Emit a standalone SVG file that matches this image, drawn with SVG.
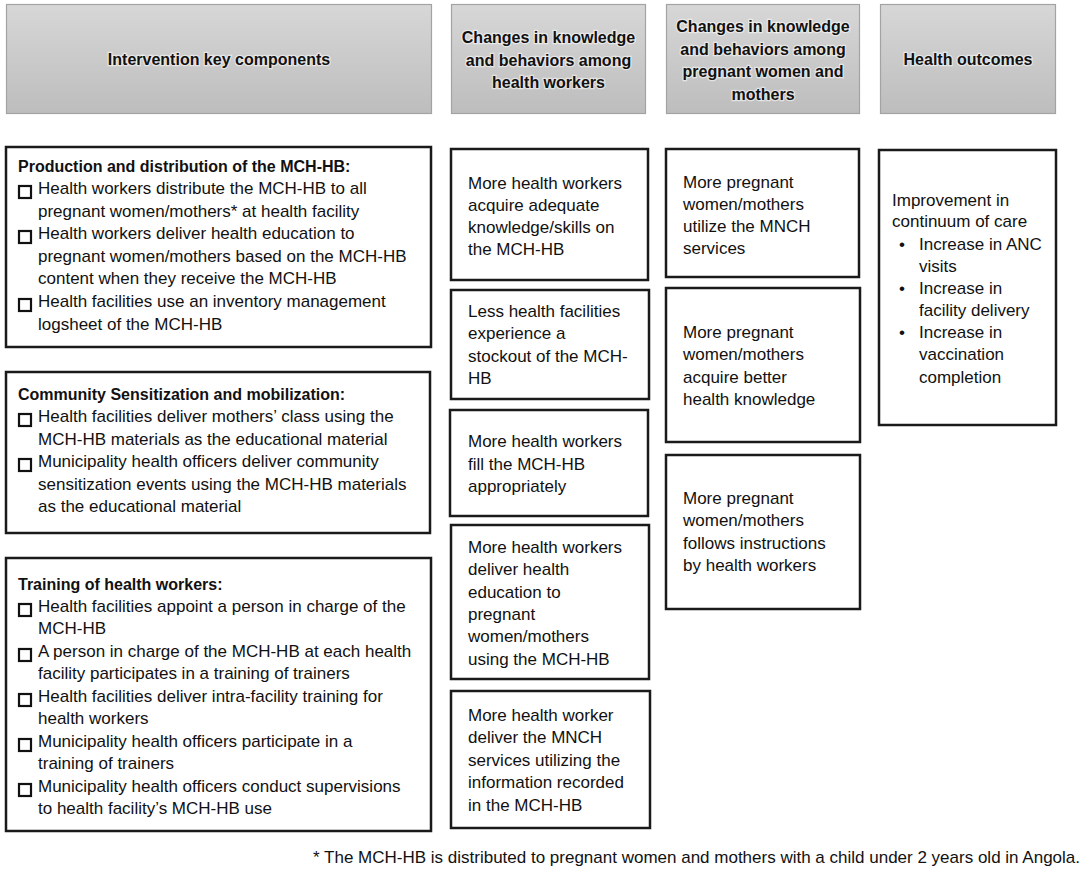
<svg xmlns="http://www.w3.org/2000/svg" width="1084" height="871" viewBox="0 0 1084 871">
<defs>
<linearGradient id="hg" x1="0" y1="0" x2="0" y2="1">
<stop offset="0" stop-color="#d7d7d7"/>
<stop offset="1" stop-color="#bdbdbd"/>
</linearGradient>
</defs>
<style>
.hdr{fill:url(#hg);stroke:#a3a3a3;stroke-width:1.2}
.ht{font-family:"Liberation Sans",Arial,sans-serif;font-weight:bold;font-size:16px;fill:#111;text-anchor:middle;stroke:#ffffff;stroke-width:2.5px;stroke-opacity:0.55;paint-order:stroke}
.box{fill:#fff;stroke:#1a1a1a;stroke-width:2.5}
.t{font-family:"Liberation Sans",Arial,sans-serif;font-size:17px;fill:#111}
.tb{font-family:"Liberation Sans",Arial,sans-serif;font-size:16px;font-weight:bold;fill:#111}
.cb{fill:none;stroke:#111;stroke-width:2.2}
</style>
<rect width="1084" height="871" fill="#fff"/>

<g id="header-intervention">
<rect class="hdr" x="6.5" y="4.5" width="425" height="109"/>
<text class="ht" x="219" y="65">Intervention key components</text>
</g>
<g id="header-health-workers">
<rect class="hdr" x="451.5" y="4.5" width="194" height="109"/>
<text class="ht" x="548.5" y="43">Changes in knowledge</text>
<text class="ht" x="548.5" y="65.5">and behaviors among</text>
<text class="ht" x="548.5" y="88">health workers</text>
</g>
<g id="header-women">
<rect class="hdr" x="666.5" y="4.5" width="193" height="109"/>
<text class="ht" x="763" y="32">Changes in knowledge</text>
<text class="ht" x="763" y="54.5">and behaviors among</text>
<text class="ht" x="763" y="77">pregnant women and</text>
<text class="ht" x="763" y="99.5">mothers</text>
</g>
<g id="header-outcomes">
<rect class="hdr" x="880.5" y="4.5" width="175" height="109"/>
<text class="ht" x="968" y="65">Health outcomes</text>
</g>

<g id="box-production">
<rect class="box" x="6" y="147" width="425" height="200"/>
<text class="tb" x="18" y="172">Production and distribution of the MCH-HB:</text>
<rect class="cb" x="19" y="186" width="12" height="12"/>
<text class="t" x="38" y="194">Health workers distribute the MCH-HB to all</text>
<text class="t" x="38" y="217">pregnant women/mothers* at health facility</text>
<rect class="cb" x="19" y="231" width="12" height="12"/>
<text class="t" x="38" y="239">Health workers deliver health education to</text>
<text class="t" x="38" y="262">pregnant women/mothers based on the MCH-HB</text>
<text class="t" x="38" y="284">content when they receive the MCH-HB</text>
<rect class="cb" x="19" y="299" width="12" height="12"/>
<text class="t" x="38" y="307">Health facilities use an inventory management</text>
<text class="t" x="38" y="330">logsheet of the MCH-HB</text>
</g>

<g id="box-community">
<rect class="box" x="6" y="372" width="424" height="161"/>
<text class="tb" x="18" y="400">Community Sensitization and mobilization:</text>
<rect class="cb" x="19" y="414" width="12" height="12"/>
<text class="t" x="38" y="422">Health facilities deliver mothers’ class using the</text>
<text class="t" x="38" y="445">MCH-HB materials as the educational material</text>
<rect class="cb" x="19" y="459" width="12" height="12"/>
<text class="t" x="38" y="467">Municipality health officers deliver community</text>
<text class="t" x="38" y="490">sensitization events using the MCH-HB materials</text>
<text class="t" x="38" y="512">as the educational material</text>
</g>

<g id="box-training">
<rect class="box" x="6" y="558" width="425" height="273"/>
<text class="tb" x="18" y="590">Training of health workers:</text>
<rect class="cb" x="19" y="604" width="12" height="12"/>
<text class="t" x="38" y="612">Health facilities appoint a person in charge of the</text>
<text class="t" x="38" y="634">MCH-HB</text>
<rect class="cb" x="19" y="649" width="12" height="12"/>
<text class="t" x="38" y="657">A person in charge of the MCH-HB at each health</text>
<text class="t" x="38" y="679">facility participates in a training of trainers</text>
<rect class="cb" x="19" y="694" width="12" height="12"/>
<text class="t" x="38" y="702">Health facilities deliver intra-facility training for</text>
<text class="t" x="38" y="724">health workers</text>
<rect class="cb" x="19" y="739" width="12" height="12"/>
<text class="t" x="38" y="747">Municipality health officers participate in a</text>
<text class="t" x="38" y="769">training of trainers</text>
<rect class="cb" x="19" y="784" width="12" height="12"/>
<text class="t" x="38" y="792">Municipality health officers conduct supervisions</text>
<text class="t" x="38" y="814">to health facility’s MCH-HB use</text>
</g>

<g id="box-hw-knowledge">
<rect class="box" x="451" y="149" width="197" height="131"/>
<text class="t" x="468" y="189">More health workers</text>
<text class="t" x="468" y="211">acquire adequate</text>
<text class="t" x="468" y="233">knowledge/skills on</text>
<text class="t" x="468" y="255">the MCH-HB</text>
</g>
<g id="box-stockout">
<rect class="box" x="451" y="290" width="198" height="109"/>
<text class="t" x="468" y="317">Less health facilities</text>
<text class="t" x="468" y="339">experience a</text>
<text class="t" x="468" y="362">stockout of the MCH-</text>
<text class="t" x="468" y="384">HB</text>
</g>
<g id="box-fill">
<rect class="box" x="450" y="410" width="198" height="106"/>
<text class="t" x="468" y="447">More health workers</text>
<text class="t" x="468" y="470">fill the MCH-HB</text>
<text class="t" x="468" y="492">appropriately</text>
</g>
<g id="box-education">
<rect class="box" x="451" y="525" width="198" height="154"/>
<text class="t" x="468" y="553">More health workers</text>
<text class="t" x="468" y="575">deliver health</text>
<text class="t" x="468" y="598">education to</text>
<text class="t" x="468" y="620">pregnant</text>
<text class="t" x="468" y="642">women/mothers</text>
<text class="t" x="468" y="665">using the MCH-HB</text>
</g>
<g id="box-services">
<rect class="box" x="451" y="691" width="199" height="137"/>
<text class="t" x="468" y="721">More health worker</text>
<text class="t" x="468" y="743">deliver the MNCH</text>
<text class="t" x="468" y="766">services utilizing the</text>
<text class="t" x="468" y="788">information recorded</text>
<text class="t" x="468" y="811">in the MCH-HB</text>
</g>

<g id="box-utilize">
<rect class="box" x="666" y="149" width="193" height="128"/>
<text class="t" x="683" y="188">More pregnant</text>
<text class="t" x="683" y="210">women/mothers</text>
<text class="t" x="683" y="232">utilize the MNCH</text>
<text class="t" x="683" y="254">services</text>
</g>
<g id="box-better-knowledge">
<rect class="box" x="666" y="288" width="194" height="154"/>
<text class="t" x="683" y="338">More pregnant</text>
<text class="t" x="683" y="360">women/mothers</text>
<text class="t" x="683" y="383">acquire better</text>
<text class="t" x="683" y="405">health knowledge</text>
</g>
<g id="box-instructions">
<rect class="box" x="666" y="455" width="194" height="154"/>
<text class="t" x="683" y="504">More pregnant</text>
<text class="t" x="683" y="526">women/mothers</text>
<text class="t" x="683" y="549">follows instructions</text>
<text class="t" x="683" y="571">by health workers</text>
</g>

<g id="box-outcomes">
<rect class="box" x="879" y="150" width="177" height="275"/>
<text class="t" x="892" y="206">Improvement in</text>
<text class="t" x="892" y="227">continuum of care</text>
<text class="t" x="899" y="250">•</text>
<text class="t" x="919" y="250">Increase in ANC</text>
<text class="t" x="919" y="272">visits</text>
<text class="t" x="899" y="294">•</text>
<text class="t" x="919" y="294">Increase in</text>
<text class="t" x="919" y="316">facility delivery</text>
<text class="t" x="899" y="338">•</text>
<text class="t" x="919" y="338">Increase in</text>
<text class="t" x="919" y="360">vaccination</text>
<text class="t" x="919" y="383">completion</text>
</g>

<g id="connectors"></g>

<text class="t" x="1080" y="863" text-anchor="end">* The MCH-HB is distributed to pregnant women and mothers with a child under 2 years old in Angola.</text>
</svg>
